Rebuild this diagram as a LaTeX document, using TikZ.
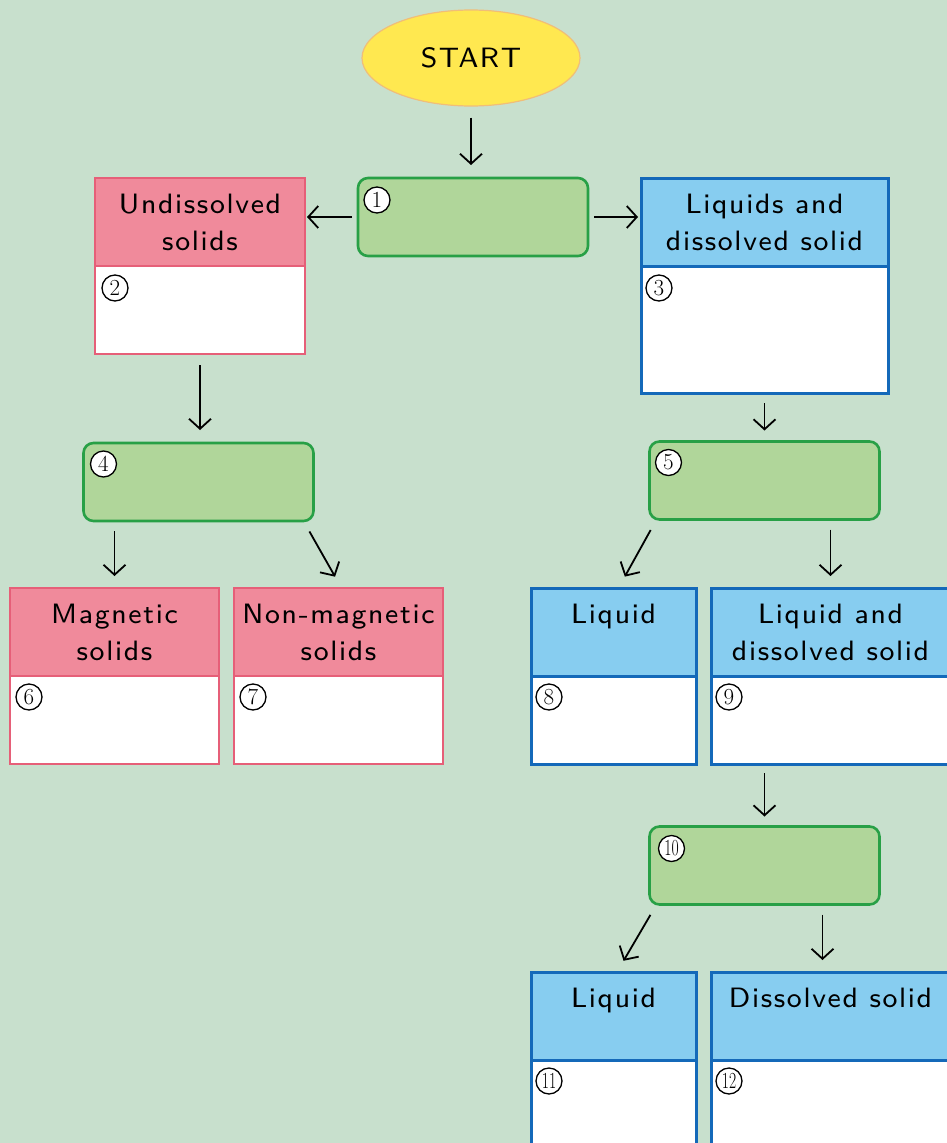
\documentclass[tikz,border=0pt]{standalone}
\usepackage{fontspec}
\usetikzlibrary{arrows.meta, positioning, shapes.geometric}

\newfontfamily\cardfont[LetterSpace=6]{lmsans8-regular.otf}

\definecolor{PaperGreen}{RGB}{200, 224, 205}
\definecolor{StartYellow}{RGB}{255, 232, 80}
\definecolor{StartEdge}{RGB}{240, 190, 120}
\definecolor{StepGreen}{RGB}{176, 214, 154}
\definecolor{StepEdge}{RGB}{40, 160, 70}
\definecolor{SolidPink}{RGB}{240, 138, 155}
\definecolor{SolidEdge}{RGB}{230, 95, 120}
\definecolor{LiquidBlue}{RGB}{135, 205, 240}
\definecolor{LiquidEdge}{RGB}{20, 105, 185}

\tikzset{
  cardtext/.style={font=\cardfont\fontsize{28}{37}\selectfont},
  startnode/.style={ellipse, draw=StartEdge, fill=StartYellow, line width=1.2pt,
    minimum width=218pt, minimum height=96pt, inner sep=0pt, cardtext},
  stepbox/.style={rectangle, rounded corners=10pt, draw=StepEdge, fill=StepGreen,
    line width=2.6pt, minimum width=230pt, minimum height=78pt, outer sep=0pt},
  solidhead/.style={rectangle, draw=SolidEdge, fill=SolidPink, line width=2.2pt,
    align=center, inner sep=0pt, outer sep=0pt, cardtext},
  solidbody/.style={rectangle, draw=SolidEdge, fill=white, line width=2.2pt, outer sep=0pt},
  liquidhead/.style={rectangle, draw=LiquidEdge, fill=LiquidBlue, line width=3pt,
    align=center, inner sep=0pt, outer sep=0pt, cardtext},
  liquidbody/.style={rectangle, draw=LiquidEdge, fill=white, line width=3pt, outer sep=0pt},
  numc/.style={circle, draw, fill=white, line width=1.3pt, inner sep=0pt,
    minimum size=26pt, font=\fontsize{23}{23}\selectfont},
  flow/.style={-{Straight Barb[length=10pt, width=22pt]}, line width=1.8pt,
    shorten <=10pt, shorten >=12pt}
}
\newcommand{\twodig}[1]{\scalebox{0.68}[1]{#1}}

\begin{document}
\begin{tikzpicture}[x=1pt, y=1pt]
  \useasboundingbox (0,0) rectangle (947,-1143);
  \clip (0,0) rectangle (947,-1143);
  \fill[PaperGreen] (0,0) rectangle (947,-1143);

  % Start and first step
  \node[startnode] (start) at (471,-58) {START};
  \node[stepbox] (s1) at (473,-217) {};
  \node[numc] (c1) at ([shift={(19,-22)}]s1.north west) {1};

  % Left branch: solids
  \node[solidhead, minimum width=210pt, minimum height=88pt] (und) at (200,-222) {Undissolved\\solids};
  \node[solidbody, minimum width=210pt, minimum height=88pt, below=0pt of und] (und-b) {};
  \node[numc] (c2) at ([shift={(20,-22)}]und-b.north west) {2};

  \node[stepbox] (s4) at (198.5,-482) {};
  \node[numc] (c4) at ([shift={(20,-21)}]s4.north west) {4};

  \node[solidhead, minimum width=209pt, minimum height=88pt] (mag) at (114.5,-632) {Magnetic\\solids};
  \node[solidbody, minimum width=209pt, minimum height=88pt, below=0pt of mag] (mag-b) {};
  \node[numc] (c6) at ([shift={(19,-21)}]mag-b.north west) {6};

  \node[solidhead, minimum width=209pt, minimum height=88pt] (nonmag) at (338.5,-632) {Non-magnetic\\solids};
  \node[solidbody, minimum width=209pt, minimum height=88pt, below=0pt of nonmag] (nonmag-b) {};
  \node[numc] (c7) at ([shift={(19,-21)}]nonmag-b.north west) {7};

  % Right branch: liquids
  \node[liquidhead, minimum width=247pt, minimum height=88pt] (liq) at (764.5,-222) {Liquids and\\dissolved solid};
  \node[liquidbody, minimum width=247pt, minimum height=127pt, below=0pt of liq] (liq-b) {};
  \node[numc] (c3) at ([shift={(18,-22)}]liq-b.north west) {3};

  \node[stepbox] (s5) at (764.5,-480.5) {};
  \node[numc] (c5) at ([shift={(19,-21)}]s5.north west) {5};

  \node[liquidhead, minimum width=165pt, minimum height=88pt] (lq8) at (613.5,-632) {Liquid\\\mbox{}};
  \node[liquidbody, minimum width=165pt, minimum height=88pt, below=0pt of lq8] (lq8-b) {};
  \node[numc] (c8) at ([shift={(18,-21)}]lq8-b.north west) {8};

  \node[liquidhead, minimum width=239pt, minimum height=88pt] (lq9) at (830.5,-632) {Liquid and\\dissolved solid};
  \node[liquidbody, minimum width=239pt, minimum height=88pt, below=0pt of lq9] (lq9-b) {};
  \node[numc] (c9) at ([shift={(18,-21)}]lq9-b.north west) {9};

  \node[stepbox] (s10) at (764.5,-865.5) {};
  \node[numc] (c10) at ([shift={(22,-22)}]s10.north west) {\twodig{10}};

  \node[liquidhead, minimum width=165pt, minimum height=88pt] (lq11) at (613.5,-1016) {Liquid\\\mbox{}};
  \node[liquidbody, minimum width=165pt, minimum height=100pt, below=0pt of lq11] (lq11-b) {};
  \node[numc] (c11) at ([shift={(18,-21)}]lq11-b.north west) {\twodig{11}};

  \node[liquidhead, minimum width=239pt, minimum height=88pt] (lq12) at (830.5,-1016) {Dissolved solid\\\mbox{}};
  \node[liquidbody, minimum width=239pt, minimum height=100pt, below=0pt of lq12] (lq12-b) {};
  \node[numc] (c12) at ([shift={(18,-21)}]lq12-b.north west) {\twodig{12}};

  % Arrows
  \draw[flow, shorten <=11pt, shorten >=13pt] (start) -- (start |- s1.north);
  \draw[flow, shorten <=6pt, shorten >=2pt] (s1.west) -- (s1.west -| und.east);
  \draw[flow, shorten <=6pt, shorten >=3pt] (s1.east) -- (s1.east -| liq.west);
  \draw[flow, shorten <=11pt, shorten >=13pt] (und-b.south) -- (und-b.south |- s4.north);
  \draw[flow] (s4.south -| mag) -- (mag.north);
  \draw[flow, shorten <=12pt, shorten >=13pt] ([xshift=-10pt]s4.south east) -- ([xshift=3pt]nonmag.north);
  \draw[flow, shorten <=10pt, shorten >=11pt] (liq-b.south) -- (s5.north);
  \draw[flow, shorten <=12pt, shorten >=13pt] ([xshift=7pt]s5.south west) -- ([xshift=5pt]lq8.north);
  \draw[flow] (s5.south -| lq9) -- (lq9.north);
  \draw[flow, shorten <=9pt, shorten >=10pt] (s10.north |- lq9-b.south) -- (s10.north);
  \draw[flow, shorten <=12pt, shorten >=13pt] ([xshift=7pt]s10.south west) -- ([xshift=3.5pt]lq11.north);
  \draw[flow] ([xshift=-8pt]s10.south -| lq12) -- ([xshift=-8pt]lq12.north);
\end{tikzpicture}
\end{document}
